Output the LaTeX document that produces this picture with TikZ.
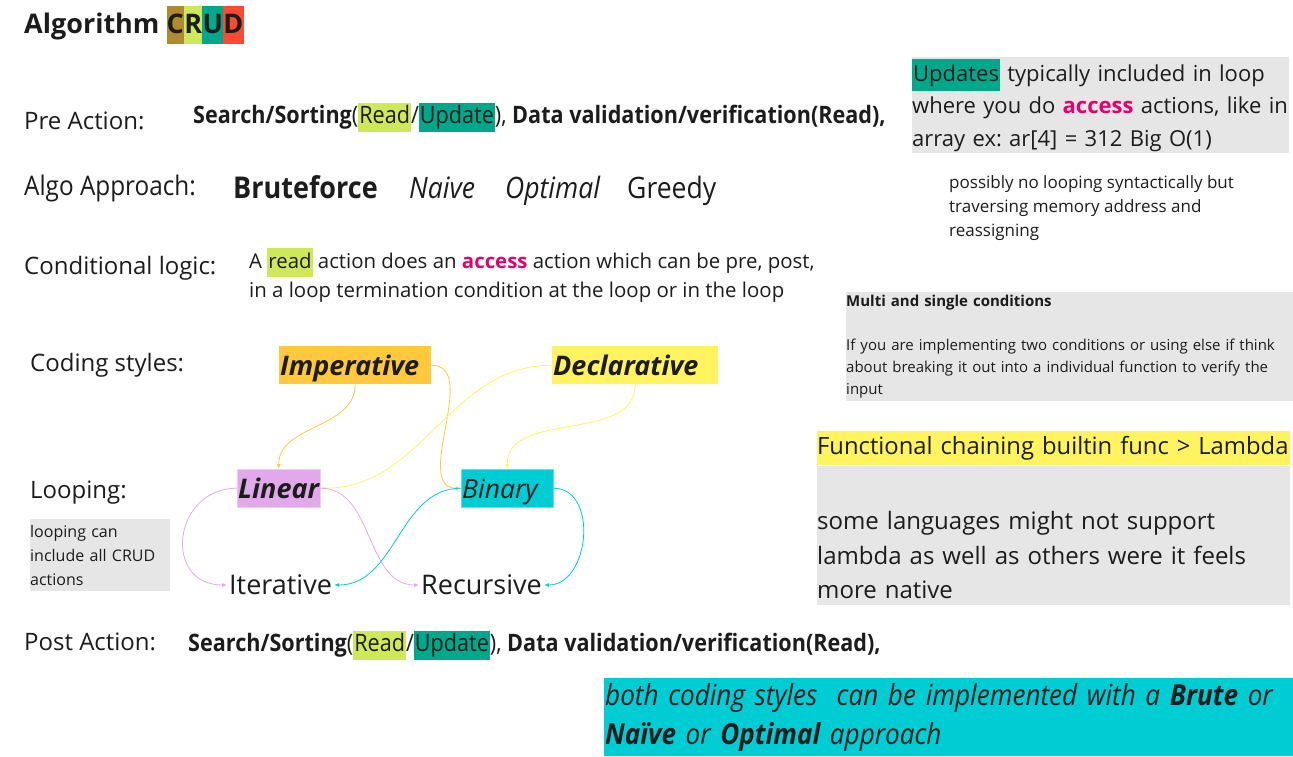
\documentclass[tikz,border=0pt]{standalone}
\usepackage{fontspec}
\setmainfont{Open Sans}
\newfontfamily\condfont[FakeStretch=0.9]{Open Sans}
\usetikzlibrary{arrows.meta,positioning}
\definecolor{ink}{HTML}{1C1C1C}
\definecolor{crudC}{HTML}{AF8A2E}
\definecolor{readGreen}{HTML}{CEE85A}
\definecolor{updTeal}{HTML}{00A88B}
\definecolor{crudD}{HTML}{FF4A33}
\definecolor{accessPink}{HTML}{E6006E}
\definecolor{impOrange}{HTML}{FFC83D}
\definecolor{declYellow}{HTML}{FFF460}
\definecolor{linLilac}{HTML}{E2A9EA}
\definecolor{binCyan}{HTML}{00CCD4}
\definecolor{boxGray}{HTML}{E6E6E6}
\newcommand{\hlword}[2]{{\setlength{\fboxsep}{0pt}\colorbox{#1}{\strut\kern1pt#2\kern1pt}}}
\newcommand{\crudletter}[2]{{\setlength{\fboxsep}{0pt}\colorbox{#1}{\strut\kern0.2pt#2\kern0.2pt}}}
\newcommand{\accessword}{\textcolor{accessPink}{\bfseries access}}
\frenchspacing

\begin{document}
\begin{tikzpicture}[x=1pt, y=-1pt,
    every node/.style={text=ink},
    rowtag/.style={anchor=base west, inner sep=0pt, font=\fontsize{24}{29}\selectfont},
    plain/.style={anchor=base west, inner sep=0pt},
    stylebox/.style={anchor=north west, inner xsep=1pt, inner ysep=0pt, minimum height=38pt,
        text height=23pt, text depth=3pt, align=left, font=\fontsize{27}{30}\selectfont\bfseries\itshape},
    note/.style={anchor=north west, inner xsep=0pt, inner ysep=0pt, align=left, fill=boxGray},
    link/.style={draw=#1, line width=0.8pt, -{Latex[length=5pt,width=4pt]}}]
    \useasboundingbox (0,0) rectangle (1293,756);
    % Title
    \node[plain, font=\bfseries\fontsize{27}{38}\selectfont] (title) at (24,33)
        {Algorithm \crudletter{crudC}{C}\crudletter{readGreen}{R}\crudletter{updTeal}{U}\crudletter{crudD}{D}};
    % Row labels
    \node[rowtag] (pre) at (24,129) {Pre Action:};
    \node[rowtag, font=\condfont\fontsize{27}{30}\selectfont] (algo) at (24,195) {Algo Approach:};
    \node[rowtag] (cond) at (24,274) {Conditional logic:};
    \node[rowtag] (coding) at (30,371) {Coding styles:};
    \node[rowtag] (looping) at (30,498) {Looping:};
    \node[rowtag] (post) at (24,650) {Post Action:};
    % Pre / post actions
    \node[plain, font=\condfont\fontsize{24}{29}\selectfont] (prerow) at (193,123)
        {{\bfseries Search/Sorting}(\hlword{readGreen}{Read}/\hlword{updTeal}{Update}), {\bfseries Data validation/verification(Read),}};
    \node[plain, font=\condfont\fontsize{24}{29}\selectfont] (postrow) at (188,651)
        {{\bfseries Search/Sorting}(\hlword{readGreen}{Read}/\hlword{updTeal}{Update}), {\bfseries Data validation/verification(Read),}};
    % Approaches
    \node[plain, font=\condfont\bfseries\fontsize{30}{34}\selectfont] (brute) at (233,198) {Bruteforce};
    \node[plain, font=\condfont\itshape\fontsize{29.5}{34}\selectfont] (naive) at (409,198) {Naive};
    \node[plain, font=\condfont\itshape\fontsize{29.5}{34}\selectfont] (optimal) at (505,198) {Optimal};
    \node[plain, font=\condfont\fontsize{29.5}{34}\selectfont] (greedy) at (627,198) {Greedy};
    % Conditional logic
    \node[anchor=north west, inner sep=0pt, align=left, font=\fontsize{20.4}{29}\selectfont] (condtext) at (249,248)
        {A \hlword{readGreen}{read} action does an \accessword{} action which can be pre, post,\\
         in a loop termination condition at the loop or in the loop};
    % Notes on the right
    \node[note, minimum width=377pt, minimum height=96pt, text width=377pt,
        font=\fontsize{22}{32.5}\selectfont] (updnote) at (912,57)
        {\hlword{updTeal}{Updates} typically included in loop\\
         where you do \accessword{} actions, like in\\
         array ex: ar[4] = 312 Big O(1)};
    \node[anchor=north west, inner sep=0pt, align=left, font=\fontsize{17}{24}\selectfont] (memnote) at (949,175)
        {possibly no looping syntactically but\\ traversing memory address and\\ reassigning};
    \node[note, minimum width=447pt, minimum height=109pt, text width=447pt,
        font=\fontsize{15}{22}\selectfont] (multinote) at (846,292)
        {{\bfseries Multi and single conditions}\\[22pt]
         If you are implementing two conditions or using else if think\\
         about breaking it out into a individual function to verify the\\
         input};
    \node[note, fill=declYellow, minimum width=473pt, minimum height=34pt, text width=473pt,
        font=\fontsize{23.8}{34.5}\selectfont] (lambdahead) at (817,431)
        {\mbox{Functional chaining builtin func > Lambda}};
    \node[note, below=0pt of lambdahead, minimum width=473pt, minimum height=139pt, text width=473pt,
        font=\fontsize{24}{34.5}\selectfont] (lambdabody)
        {\strut\\ some languages might not support\\ lambda as well as others were it feels\\ more native};
    \node[note, minimum width=140pt, minimum height=72pt, text width=140pt,
        font=\fontsize{16}{24}\selectfont] (loopnote) at (30,519)
        {looping can\\ include all CRUD\\ actions};
    \node[note, fill=binCyan, inner xsep=1pt, minimum width=689pt, minimum height=78pt, text width=687pt,
        font=\condfont\itshape\fontsize{29}{39}\selectfont] (bothnote) at (604,678)
        {both coding styles\ \ can be implemented with a {\bfseries Brute} or\\
         {\bfseries Naïve} or {\bfseries Optimal} approach};
    % Coding styles and looping
    \node[stylebox, fill=impOrange, text width=150pt] (imp) at (279,346) {Imperative};
    \node[stylebox, fill=declYellow, text width=164pt] (decl) at (552,346) {Declarative};
    \node[stylebox, fill=linLilac, draw=linLilac!60!white, text width=81pt] (lin) at (237,469) {Linear};
    \node[stylebox, fill=binCyan, draw=binCyan!60!white, text width=90pt, font=\fontsize{26.5}{30}\selectfont\itshape] (bin) at (461,469) {Binary};
    \node[plain, anchor=west, inner xsep=2pt, font=\fontsize{27}{30}\selectfont] (iter) at (227,585) {Iterative};
    \node[plain, anchor=west, inner xsep=2pt, font=\fontsize{27}{30}\selectfont] (rec) at (419,585) {Recursive};
    % Connectors
    \draw[link=impOrange] (imp.south) to[out=-90, in=90] (lin.north);
    \draw[link=impOrange] (imp.east) to[out=0, in=180] (bin.west);
    \draw[link=declYellow] (decl.west) to[out=180, in=0] (lin.east);
    \draw[link=declYellow] (decl.south) to[out=-90, in=90] (bin.north);
    \draw[link=linLilac] (lin.west) to[out=180, in=180, looseness=1.7] (iter.west);
    \draw[link=linLilac] (lin.east) to[out=0, in=180] (rec.west);
    \draw[link=binCyan] (bin.west) to[out=180, in=0] (iter.east);
    \draw[link=binCyan] (bin.east) to[out=0, in=0, looseness=1.2] (rec.east);
\end{tikzpicture}
\end{document}
